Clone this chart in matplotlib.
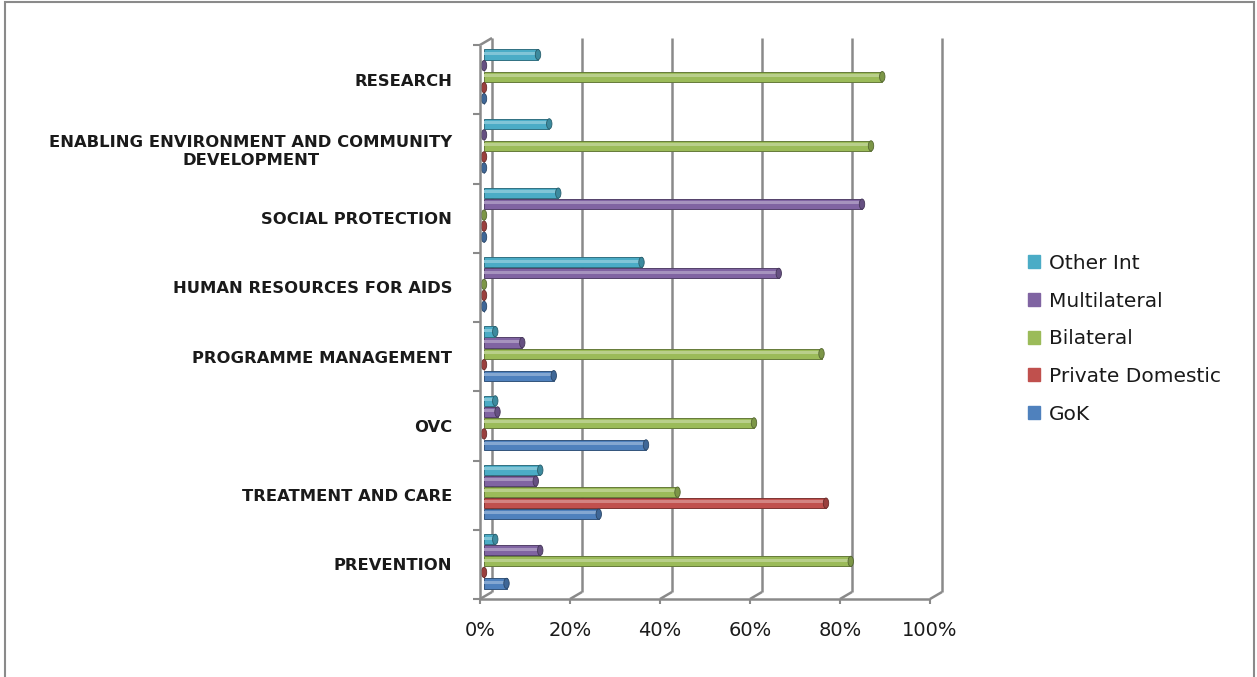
import matplotlib.pyplot as plt
import matplotlib.colors as mcolors
from matplotlib.patches import Ellipse, Patch, Rectangle

# Funding share by source for each programme area (%)
categories = ['PREVENTION', 'TREATMENT AND CARE', 'OVC', 'PROGRAMME MANAGEMENT',
              'HUMAN RESOURCES FOR AIDS', 'SOCIAL PROTECTION',
              'ENABLING ENVIRONMENT AND COMMUNITY\nDEVELOPMENT', 'RESEARCH']
gok = [5, 25.5, 36, 15.5, 0, 0, 0, 0]
private_domestic = [0, 76, 0, 0, 0, 0, 0, 0]
bilateral = [81.5, 43, 60, 75, 0, 0, 86, 88.5]
multilateral = [12.5, 11.5, 3, 8.5, 65.5, 84, 0, 0]
other_int = [2.5, 12.5, 2.5, 2.5, 35, 16.5, 14.5, 12]

series_names = ['GoK', 'Private Domestic', 'Bilateral', 'Multilateral', 'Other Int']
series_vals = [gok, private_domestic, bilateral, multilateral, other_int]
series_cols = ['#4F81BD', '#C0504D', '#9BBB59', '#8064A2', '#4BACC6']
x_ticks = [0, 20, 40, 60, 80, 100]

W, H, DPI = 1257, 677, 100
AX_L, AX_B, AX_W, AX_H = 480, 78, 450, 554
GRID = '#8a8a8a'

fig = plt.figure(figsize=(W / DPI, H / DPI), dpi=DPI)
ax = fig.add_axes([AX_L / W, AX_B / H, AX_W / W, AX_H / H])
ax.set_xlim(0, 100)
ax.set_ylim(0, len(categories))
ax.patch.set_visible(False)
for s in ax.spines.values():
    s.set_visible(False)

# pixel -> data helpers for the fake 3d depth
ppx = AX_W / 100
ppy = AX_H / len(categories)
back_dx, back_dy = 12 / ppx, 7 / ppy
bar_dx, bar_dy = 4 / ppx, 3 / ppy
n_cat = len(categories)

line_kw = dict(color=GRID, lw=1.8, clip_on=False, solid_capstyle='butt')
# back wall gridlines + floor diagonals
for t in x_ticks:
    ax.plot([t + back_dx] * 2, [back_dy, n_cat + back_dy], zorder=1, **line_kw)
    ax.plot([t, t + back_dx], [0, back_dy], zorder=1, **line_kw)
ax.plot([0, back_dx], [n_cat, n_cat + back_dy], zorder=1, **line_kw)
# front axes
ax.plot([0, 0], [0, n_cat], zorder=4, **line_kw)
ax.plot([0, 100], [0, 0], zorder=4, **line_kw)


def shade(c, f):
    r, g, b = mcolors.to_rgb(c)
    if f > 0:
        return (r + (1 - r) * f, g + (1 - g) * f, b + (1 - b) * f)
    return (r * (1 + f), g * (1 + f), b * (1 + f))


bar_h = 0.148
step = 0.159
for j, (name, vals, col) in enumerate(zip(series_names, series_vals, series_cols)):
    ys = [i + 0.5 + bar_dy + (j - 2) * step for i in range(n_cat)]
    ax.barh(ys, vals, height=bar_h, left=bar_dx, color=col,
            edgecolor=shade(col, -0.35), lw=0.7, zorder=3, clip_on=False)
    # highlight stripe along the cylinder
    ax.barh([y + bar_h * 0.12 for y in ys], vals, height=bar_h * 0.3, left=bar_dx,
            color=shade(col, 0.3), lw=0, zorder=3.1, clip_on=False)
    # rounded end cap
    for y, v in zip(ys, vals):
        ax.add_patch(Ellipse((bar_dx + v, y), width=1.2, height=bar_h,
                             facecolor=shade(col, -0.2), edgecolor=shade(col, -0.45),
                             lw=0.6, zorder=3.2, clip_on=False))

# category labels at the centres, boundary ticks on the minor locator
ax.set_yticks([i + 0.5 for i in range(n_cat)])
ax.set_yticklabels(categories, fontsize=11.8, fontweight='bold',
                   fontfamily='DejaVu Sans', color='#1a1a1a')
for lab in ax.get_yticklabels():
    lab.set_multialignment('center')
ax.set_yticks(range(n_cat + 1), minor=True)
ax.tick_params(axis='y', which='major', length=0, pad=20)
ax.tick_params(axis='y', which='minor', length=5, width=1.5, color=GRID)

ax.set_xticks(x_ticks)
ax.set_xticklabels([f'{t}%' for t in x_ticks], fontsize=14, color='#1a1a1a')
ax.tick_params(axis='x', length=3.6, width=1.5, color=GRID, pad=12)

handles = [Patch(color=c, label=n) for n, c in zip(series_names, series_cols)][::-1]
fig.legend(handles=handles, loc='upper left', bbox_to_anchor=(1018 / W, 0.64),
           frameon=False, fontsize=14.5, handlelength=0.6, handleheight=0.6,
           handletextpad=0.45, labelspacing=0.93, borderpad=0, labelcolor='#1a1a1a')

# outer chart border
fig.add_artist(Rectangle((5 / W, -0.01), 1249 / W, (675 / H) + 0.01,
                         transform=fig.transFigure, fill=False,
                         edgecolor='#8a8a8a', lw=1.5))

plt.savefig('out.png', dpi=DPI)
